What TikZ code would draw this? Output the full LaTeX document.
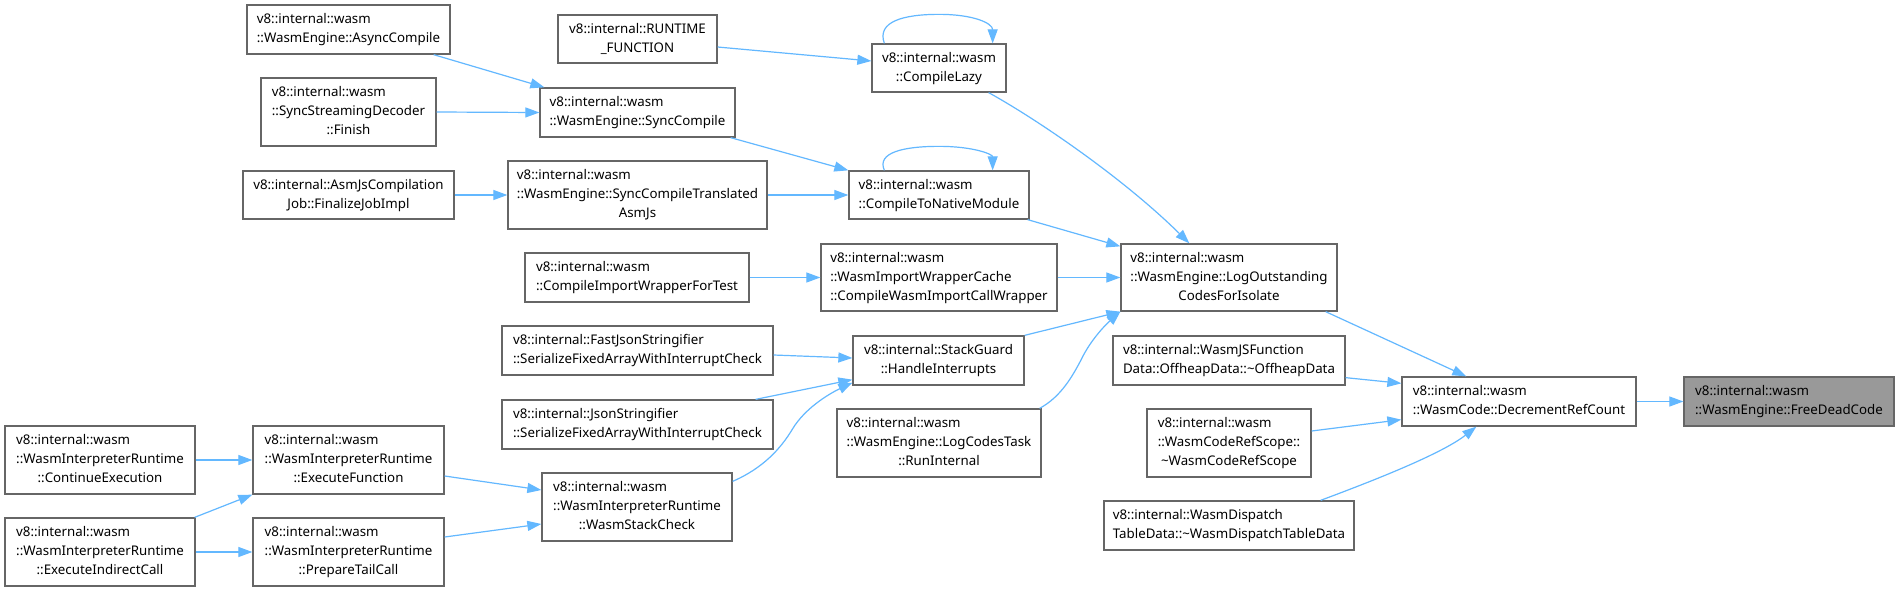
\documentclass[tikz,border=0pt]{standalone}
\usepackage{fontspec}
\setmainfont{Noto Sans}
\usetikzlibrary{arrows.meta,calc}
\definecolor{edgec}{HTML}{63B8FF}
\definecolor{bord}{HTML}{666666}
\definecolor{hl}{HTML}{999999}
\newcommand\lbl[2]{\begin{tabular}{@{}l@{}}#1\\\multicolumn{1}{@{}c@{}}{#2}\end{tabular}}
\newcommand\bx[7][]{\node[box,#1,minimum width={(#5-#3)*1pt},minimum height={(#6-#4)*1pt}] (#2) at ({(#3+#5)/2},{(#4+#6)/2}) {#7};}
\tikzset{
  box/.style={draw=bord, line width=1.3pt, inner sep=0pt, fill=white, text=black, font=\fontsize{13.3}{19}\selectfont},
  hlbox/.style={fill=hl},
  conn/.style={draw=edgec, line width=1.2pt, -{Triangle[length=14pt,width=10pt]}},
}
\begin{document}
\begin{tikzpicture}[x=1pt,y=-1pt]
\fill[white] (0,0) rectangle (1899,592);
\useasboundingbox (0,0) rectangle (1899,592);
% nodes
\bx{async}{247}{5}{450}{54}{\lbl{v8::internal::wasm}{::WasmEngine::AsyncCompile}}
\bx{ssd}{261}{78}{436}{146}{\lbl{v8::internal::wasm\\::SyncStreamingDecoder}{::Finish}}
\bx{asmjs}{243}{171}{454}{219}{\lbl{v8::internal::AsmJsCompilation}{Job::FinalizeJobImpl}}
\bx{sync}{540}{88}{735}{137}{\lbl{v8::internal::wasm}{::WasmEngine::SyncCompile}}
\bx{synct}{508}{161}{767}{229}{\lbl{v8::internal::wasm\\::WasmEngine::SyncCompileTranslated}{AsmJs}}
\bx{rtf}{558}{15}{717}{63}{\lbl{v8::internal::RUNTIME}{\_FUNCTION}}
\bx{lazy}{872}{44}{1006}{92}{\lbl{v8::internal::wasm}{::CompileLazy}}
\bx{ctnm}{849}{171}{1029}{219}{\lbl{v8::internal::wasm}{::CompileToNativeModule}}
\bx{ciwt}{525}{253}{749}{302}{\lbl{v8::internal::wasm}{::CompileImportWrapperForTest}}
\bx{iwc}{821}{244}{1057}{311}{\lbl{v8::internal::wasm\\::WasmImportWrapperCache}{::CompileWasmImportCallWrapper}}
\bx{log}{1121}{244}{1337}{311}{\lbl{v8::internal::wasm\\::WasmEngine::LogOutstanding}{CodesForIsolate}}
\bx{fjs}{502}{326}{773}{375}{\lbl{v8::internal::FastJsonStringifier}{::SerializeFixedArrayWithInterruptCheck}}
\bx{js}{502}{400}{773}{449}{\lbl{v8::internal::JsonStringifier}{::SerializeFixedArrayWithInterruptCheck}}
\bx{sg}{853}{336}{1024}{385}{\lbl{v8::internal::StackGuard}{::HandleInterrupts}}
\bx{lct}{837}{409}{1041}{477}{\lbl{v8::internal::wasm\\::WasmEngine::LogCodesTask}{::RunInternal}}
\bx{jsf}{1113}{336}{1345}{385}{\lbl{v8::internal::WasmJSFunction}{Data::OffheapData::\textasciitilde OffheapData}}
\bx{crs}{1147}{409}{1311}{477}{\lbl{v8::internal::wasm\\::WasmCodeRefScope::}{\textasciitilde WasmCodeRefScope}}
\bx{wdt}{1104}{501}{1354}{550}{\lbl{v8::internal::WasmDispatch}{TableData::\textasciitilde WasmDispatchTableData}}
\bx{drc}{1402}{377}{1636}{426}{\lbl{v8::internal::wasm}{::WasmCode::DecrementRefCount}}
\bx[hlbox]{fdc}{1684}{377}{1894}{426}{\lbl{v8::internal::wasm}{::WasmEngine::FreeDeadCode}}
\bx{ce}{5}{426}{195}{494}{\lbl{v8::internal::wasm\\::WasmInterpreterRuntime}{::ContinueExecution}}
\bx{eic}{5}{518}{195}{586}{\lbl{v8::internal::wasm\\::WasmInterpreterRuntime}{::ExecuteIndirectCall}}
\bx{ef}{253}{426}{444}{494}{\lbl{v8::internal::wasm\\::WasmInterpreterRuntime}{::ExecuteFunction}}
\bx{ptc}{253}{518}{444}{586}{\lbl{v8::internal::wasm\\::WasmInterpreterRuntime}{::PrepareTailCall}}
\bx{wsc}{542}{473}{732}{541}{\lbl{v8::internal::wasm\\::WasmInterpreterRuntime}{::WasmStackCheck}}
% edges
\draw[conn] ($(async.south east)+(-17,0)$) -- ($(sync.north west)+(5,0)$);
\draw[conn] (ssd.east) -- (sync.west);
\draw[conn] (asmjs.east) -- (synct.west);
\draw[conn] ($(rtf.east)+(0,8)$) -- ($(lazy.west)+(0,-7)$);
\draw[conn] ($(lazy.north west)+(13,0)$) .. controls +(-8,-22) and +(-35,0) .. ($(lazy.north)+(0,-29)$) .. controls +(35,0) and +(0,-20) .. ($(lazy.north east)+(-14,0)$);
\draw[conn] ($(ctnm.north west)+(36,0)$) .. controls +(-8,-18) and +(-35,0) .. ($(ctnm.north)+(0,-24)$) .. controls +(35,0) and +(0,-16) .. ($(ctnm.north east)+(-37,0)$);
\draw[conn] ($(sync.south east)+(-5,0)$) -- (ctnm.north west);
\draw[conn] (synct.east) -- (ctnm.west);
\draw[conn] ($(ctnm.south east)+(-2,0)$) -- ($(log.north west)+(0,3)$);
\draw[conn] ($(lazy.south east)+(-18,0)$) .. controls +(42,23) and +(-70,-69) .. ($(log.north west)+(69,0)$);
\draw[conn] (ciwt.east) -- (iwc.west);
\draw[conn] (iwc.east) -- (log.west);
\draw[conn] (sg.north east) -- (log.south west);
\draw[conn] ($(lct.north east)+(-2,0)$) .. controls +(22,-12) and +(-8,15) .. ($(lct.north east)!0.5!(log.south west)$) .. controls +(8,-17) and +(-18,16) .. (log.south west);
\draw[conn] ($(fjs.east)+(0,4.5)$) -- ($(sg.west)+(0,-2.5)$);
\draw[conn] ($(js.north east)+(-18,0)$) -- ($(sg.south west)+(0,-6)$);
\draw[conn] ($(wsc.north east)+(0,9)$) .. controls +(30,-13) and +(-12,20) .. ($(wsc.north east)!0.5!(sg.south west)$) .. controls +(12,-20) and +(-25,12) .. ($(sg.south west)+(0,-3)$);
\draw[conn] (ce.east) -- (ef.west);
\draw[conn] ($(eic.north east)+(-1,0)$) -- (ef.south west);
\draw[conn] (eic.east) -- (ptc.west);
\draw[conn] ($(ef.east)+(0,16)$) -- ($(wsc.west)+(0,-17)$);
\draw[conn] ($(ptc.east)+(0,-15)$) -- ($(wsc.west)+(0,17)$);
\draw[conn] ($(log.south east)+(-12,0)$) -- ($(drc.north west)+(65,0)$);
\draw[conn] ($(jsf.south east)+(0,-8)$) -- ($(drc.north west)+(0,7)$);
\draw[conn] ($(crs.east)+(0,-12)$) -- ($(drc.south west)+(0,-7)$);
\draw[conn] ($(wdt.north east)+(-34,0)$) .. controls +(40,-15) and +(-37,29) .. ($(drc.south west)+(75,0)$);
\draw[conn] (drc.east) -- (fdc.west);
\end{tikzpicture}
\end{document}
